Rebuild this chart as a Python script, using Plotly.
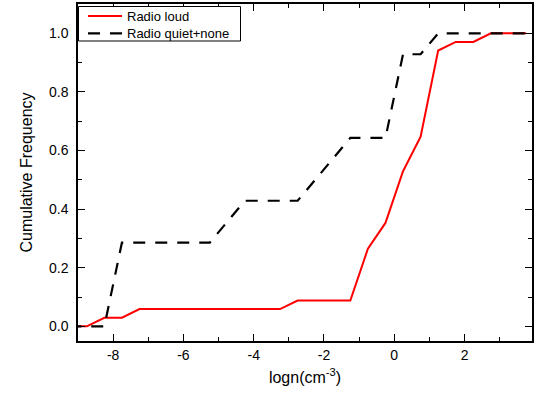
import plotly.graph_objects as go

# Bin centres of logn (cm^-3)
x_bins = [-9.25, -8.75, -8.25, -7.75, -7.25, -5.25, -4.25, -3.25, -2.75,
          -1.25, -0.75, -0.25, 0.25, 0.75, 1.25, 1.75, 2.25, 2.75, 3.75]

# Radio loud cumulative frequency (N=34)
radio_loud = [0.0, 0.0, 0.0294, 0.0294, 0.0588, 0.0588, 0.0588, 0.0588, 0.0882,
              0.0882, 0.2647, 0.3529, 0.5294, 0.6471, 0.9412, 0.9706, 0.9706, 1.0, 1.0]

# Radio quiet + none cumulative frequency (N=14)
radio_quiet = [0.0, 0.0, 0.0, 0.2857, 0.2857, 0.2857, 0.4286, 0.4286, 0.4286,
               0.6429, 0.6429, 0.6429, 0.9286, 0.9286, 1.0, 1.0, 1.0, 1.0, 1.0]

x_ticks = [-8, -6, -4, -2, 0, 2]
y_ticks = [0.0, 0.2, 0.4, 0.6, 0.8, 1.0]

series_names = ["Radio loud", "Radio quiet+none"]
series_colors = ["#ff0000", "#000000"]
series_dash = ["solid", "12px,10px"]

font_family = "Liberation Sans, Arial, sans-serif"

fig = go.Figure()
fig.add_trace(go.Scatter(x=x_bins, y=radio_loud, mode="lines", name=series_names[0],
                         line=dict(color=series_colors[0], width=2), showlegend=False))
fig.add_trace(go.Scatter(x=x_bins, y=radio_quiet, mode="lines", name=series_names[1],
                         line=dict(color=series_colors[1], width=2.2, dash=series_dash[1]),
                         showlegend=False))

axis_common = dict(showgrid=False, zeroline=False, showline=True, linecolor="black",
                   linewidth=1.5, ticks="inside", ticklen=7, tickwidth=1.3,
                   tickcolor="black", mirror="allticks",
                   tickfont=dict(family=font_family, size=14, color="black"))

fig.update_xaxes(range=[-9, 3.92], tickvals=x_ticks, ticktext=[str(v) for v in x_ticks],
                 minor=dict(dtick=1, tick0=0, ticks="inside", ticklen=4, tickcolor="black", tickwidth=1.3),
                 title=dict(text="logn(cm<sup>-3</sup>)", font=dict(family=font_family, size=16, color="black"),
                            standoff=10),
                 **axis_common)
fig.update_yaxes(range=[-0.05, 1.1], tickvals=y_ticks, ticktext=[f"{v:.1f}" for v in y_ticks],
                 minor=dict(dtick=0.1, tick0=0, ticks="inside", ticklen=4, tickcolor="black", tickwidth=1.3),
                 ticklabelstandoff=5,
                 title=dict(text="Cumulative Frequency", font=dict(family=font_family, size=16, color="black"),
                            standoff=12),
                 **axis_common)

# Custom legend box (pixel offsets from the plot's top-left corner)
shapes = [dict(type="rect", xref="paper", yref="paper", xsizemode="pixel", ysizemode="pixel",
               xanchor=0, yanchor=1, x0=0.5, x1=162.5, y0=-2.5, y1=-37,
               line=dict(color="black", width=1), fillcolor="white", layer="above")]
annotations = []
for i, (name, col, dash) in enumerate(zip(series_names, series_colors, series_dash)):
    yc = -12 - 17.3 * i
    shapes.append(dict(type="line", xref="paper", yref="paper", xsizemode="pixel", ysizemode="pixel",
                       xanchor=0, yanchor=1, x0=10, x1=44, y0=yc, y1=yc, layer="above",
                       line=dict(color=col, width=2.2, dash=dash)))
    annotations.append(dict(text=name, xref="paper", yref="paper", x=0, y=1, xanchor="left",
                            yanchor="middle", xshift=47, yshift=yc, showarrow=False,
                            font=dict(family=font_family, size=13, color="black")))

fig.update_layout(
    width=534, height=403,
    margin=dict(l=78, r=0, t=4, b=62),
    plot_bgcolor="white", paper_bgcolor="white",
    showlegend=False,
    shapes=shapes,
    annotations=annotations,
)

fig.write_html("out.html")
